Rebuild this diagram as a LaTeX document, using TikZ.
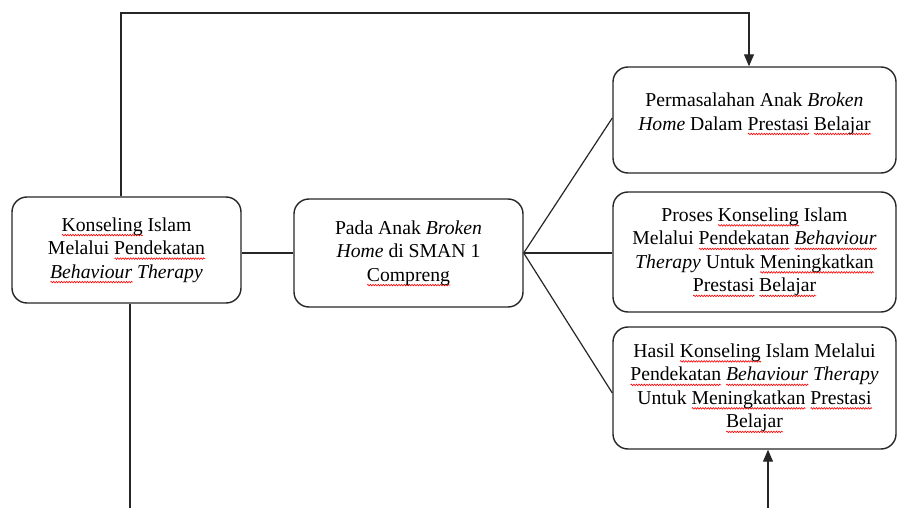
\documentclass[tikz,border=0pt]{standalone}
\usepackage{fontspec}
\setmainfont{Liberation Serif}
\usetikzlibrary{arrows.meta,decorations.pathmorphing}
\newlength\sqw
\newcommand\sq[1]{\settowidth\sqw{#1}\leavevmode\rlap{\smash{\raisebox{-5pt}{\tikz[x=1pt,y=1pt]\draw[red, line width=0.6pt, rounded corners=0pt, decorate, decoration={zigzag, segment length=2.6pt, amplitude=0.8pt}] (0,0) -- (\sqw,0);}}}#1}
\tikzset{
  box/.style={draw, line width=1.4pt, draw=black!85, rounded corners=15pt, align=center,
    font=\fontsize{19.7}{23.5}\selectfont, inner sep=0pt},
  conn/.style={line width=1.2pt, draw=black!85},
  arr/.style={conn, -{Triangle[length=12pt,width=10pt]}}
}
\begin{document}
\begin{tikzpicture}[x=1pt,y=-1pt]
\useasboundingbox (0,0) rectangle (898,508);
\node[box, minimum width=229pt, minimum height=106pt] (A) at (126.5,250)
  {\sq{Konseling} Islam\\ Melalui \sq{Pendekatan}\\ \textit{\sq{Behaviour} Therapy}};
\node[box, minimum width=229pt, minimum height=108pt] (B) at (408.5,253)
  {Pada Anak \textit{Broken}\\ \textit{Home} di SMAN 1\\ \sq{Compreng}};
\node[box, minimum width=283pt, minimum height=106pt, text depth=17pt] (C) at (754.5,120)
  {Permasalahan Anak \textit{Broken}\\ \textit{Home} Dalam \sq{Prestasi} \sq{Belajar}};
\node[box, minimum width=283pt, minimum height=120pt] (D) at (754.5,252)
  {Proses \sq{Konseling} Islam\\ Melalui \sq{Pendekatan} \textit{\sq{Behaviour}}\\ \textit{Therapy} Untuk \sq{Meningkatkan}\\ \sq{Prestasi} \sq{Belajar}};
\node[box, minimum width=283pt, minimum height=122pt] (E) at (754.5,388)
  {Hasil \sq{Konseling} Islam Melalui\\ \sq{Pendekatan} \textit{\sq{Behaviour} Therapy}\\ Untuk \sq{Meningkatkan} \sq{Prestasi}\\ \sq{Belajar}};
\coordinate (ctop) at (749,13);
\coordinate (abot) at (130,508);
\coordinate (ebot) at (768,508);
\draw[conn] (B.west -| A.east) -- (B.west);
\draw[conn] (B.east) -- ([yshift=2pt]C.west);
\draw[conn] (B.east) -- (B.east -| D.west);
\draw[conn] (B.east) -- ([yshift=-5pt]E.west);
\draw[arr] ([xshift=-5.5pt]A.north) |- (ctop) -- (ctop |- C.north);
\draw[conn] ([xshift=3.5pt]A.south) -- (abot);
\draw[arr] (ebot) -- (ebot |- E.south);
\end{tikzpicture}
\end{document}
